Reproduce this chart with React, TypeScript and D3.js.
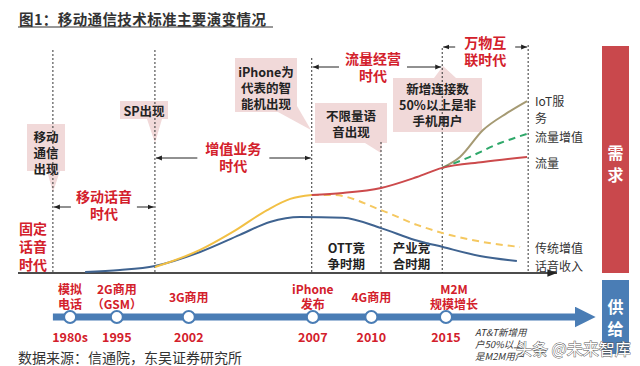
import React from "react";
import * as d3 from "d3";

// progress along the chart, 0..100 (left to right), and relative level 0..100
const eraBounds = [6.5, 25.5, 54.7, 67.6, 79, 95];

const voiceX = [12.5, 19, 25.5, 33.9, 41.3, 46.9, 52.5, 60.5, 67.6, 73.9, 79.1, 86, 92.9];
const voiceY = [0.4, 1.3, 3.1, 9.2, 16.7, 22.4, 24.6, 24.2, 19.7, 14.5, 11.4, 7.5, 5.3];

const vasX = [25.5, 33.9, 40, 46.4, 50.7, 54.7];
const vasY = [2.6, 10.1, 18, 27.6, 32.5, 34.2];

const vasDashX = [54.7, 58.7, 67.6, 74.3, 79.1, 86.6, 93.5];
const vasDashY = [34.2, 34.2, 27.6, 21.1, 17.5, 13.6, 11.4];

const trafficX = [54.7, 60.5, 67.6, 74.3, 79, 86.6, 94.8];
const trafficY = [34.2, 35.1, 37.3, 42.1, 46.1, 48.7, 50.9];

const trafficVasX = [79, 83.6, 89.8, 94.8];
const trafficVasY = [46.1, 50.4, 57, 61];

const iotX = [79, 82.3, 86.6, 91.1, 94.8];
const iotY = [46.1, 50.9, 62.7, 70.2, 75.4];

const milestoneX = [9.7, 18.4, 31.8, 54.9, 65.8, 79.7];
const milestoneYears = ["1980s", "1995", "2002", "2007", "2010", "2015"];
const milestoneNames = [["模拟", "电话"], ["2G商用", "（GSM）"], ["3G商用"], ["iPhone", "发布"], ["4G商用"], ["M2M", "规模增长"]];

const eras = [
  { from: 0, to: 1, lines: ["移动话音", "时代"], y: 196, arrowY: 207, gap: 33 },
  { from: 1, to: 2, lines: ["增值业务", "时代"], y: 148, arrowY: 158, gap: 36 },
  { from: 2, to: 4, lines: ["流量经营", "时代"], y: 58, arrowY: 67, gap: 34 },
  { from: 4, to: 5, lines: ["万物互", "联时代"], y: 42, arrowY: 47, gap: 30 },
];

const FONT = "'Noto Sans CJK SC', 'Noto Sans', sans-serif";
const RED = "#d3202b";
const PINK = "#f1d9d9";

const xs = d3.scaleLinear().domain([0, 100]).range([18, 555]);
const ys = d3.scaleLinear().domain([0, 100]).range([273, 45]);

const line = d3
  .line<[number, number]>()
  .x((d) => xs(d[0]))
  .y((d) => ys(d[1]))
  .curve(d3.curveMonotoneX);

const zip = (a: number[], b: number[]) => a.map((v, i) => [v, b[i]] as [number, number]);

function Callout({ box, base, tip, lines, cy }: any) {
  const [x, y, w, h] = box;
  return (
    <g>
      <rect x={x} y={y} width={w} height={h} fill={PINK} />
      <polygon points={`${base[0]},${base[1]} ${base[2]},${base[3]} ${tip[0]},${tip[1]}`} fill={PINK} />
      {lines.map((t: string, i: number) => (
        <text key={i} x={x + w / 2} y={cy + i * 16} textAnchor="middle" dominantBaseline="central"
          fontSize={12.5} fontWeight="bold" fill="#222">{t}</text>
      ))}
    </g>
  );
}

export default function App() {
  const bx = eraBounds.map((v) => xs(v));
  const dashTop = [50, 50, 58, 142, 48, 45];

  return (
    <div style={{ position: "fixed", left: 0, top: 0 }}>
      <svg width={640} height={366} fontFamily={FONT} style={{ display: "block", background: "#fff" }}>
        <defs>
          <marker id="ah" viewBox="0 0 10 10" refX="10" refY="5" markerWidth="6" markerHeight="6" orient="auto-start-reverse">
            <path d="M0,1 L10,5 L0,9 z" fill="#222" />
          </marker>
          <marker id="ahBlue" viewBox="0 0 10 10" refX="6" refY="5" markerWidth="3" markerHeight="3" orient="auto">
            <path d="M0,0 L10,5 L0,10 z" fill="#4a7db5" />
          </marker>
        </defs>

        {/* title */}
        <text x={19} y={18} fontSize={14.5} fontWeight="bold" fill="#333" dominantBaseline="central" letterSpacing={0.4}>图1：移动通信技术标准主要演变情况</text>
        <line x1={18} x2={273} y1={27} y2={27} stroke="#333" strokeWidth={1} />

        {/* callouts (drawn below the dashed lines) */}
        <Callout box={[27, 124, 38, 47]} base={[47, 171, 60, 171]} tip={[53, 192]} lines={["移动", "通信", "出现"]} cy={136} />
        <Callout box={[120, 101, 48, 18]} base={[147, 119, 162, 119]} tip={[155, 143]} lines={["SP出现"]} cy={110} />
        <Callout box={[235, 58, 62, 54]} base={[278, 112, 297, 106]} tip={[311, 130]} lines={["iPhone为", "代表的智", "能机出现"]} cy={71} />
        <Callout box={[315, 103, 72, 40]} base={[365, 143, 382, 143]} tip={[381, 153]} lines={["不限量语", "音出现"]} cy={115} />
        <Callout box={[393, 78, 89, 54]} base={[434, 78, 456, 78]} tip={[443, 66]} lines={["新增连接数", "50%以上是非", "手机用户"]} cy={88} />

        {/* dashed era boundaries */}
        {bx.map((x, i) => (
          <line key={i} x1={x} x2={x} y1={dashTop[i]} y2={ys(0)} stroke="#333" strokeWidth={1} strokeDasharray="2,2" />
        ))}

        {/* baseline with arrow */}
        <line x1={xs(0)} x2={xs(100) + 2} y1={ys(0)} y2={ys(0)} stroke="#111" strokeWidth={1.6} markerEnd="url(#ah)" />

        {/* era labels */}
        {["固定", "话音", "时代"].map((t, i) => (
          <text key={t} x={33} y={228 + i * 18} textAnchor="middle" dominantBaseline="central" fontSize={14} fontWeight="bold" fill={RED}>{t}</text>
        ))}
        {eras.map((e, i) => {
          const x0 = bx[e.from];
          const x1 = bx[e.to];
          const cx = (x0 + x1) / 2 - (e.from === 2 ? 4 : 0);
          return (
            <g key={i}>
              {e.lines.map((t, j) => (
                <text key={j} x={cx} y={e.y + j * 17} textAnchor="middle" dominantBaseline="central" fontSize={14} fontWeight="bold" fill={RED}>{t}</text>
              ))}
              <line x1={cx - e.gap} x2={x0 + 1} y1={e.arrowY} y2={e.arrowY} stroke="#222" strokeWidth={1} markerEnd="url(#ah)" />
              <line x1={cx + e.gap} x2={x1 - 1} y1={e.arrowY} y2={e.arrowY} stroke="#222" strokeWidth={1} markerEnd="url(#ah)" />
            </g>
          );
        })}

        {/* phase labels */}
        {[["OTT竞", "争时期"], ["产业竞", "合时期"]].map((ls, i) => (
          <g key={i}>
            {ls.map((t, j) => (
              <text key={j} x={(bx[2 + i] + bx[3 + i]) / 2} y={247 + j * 16} textAnchor="middle" dominantBaseline="central" fontSize={12.5} fontWeight="bold" fill="#222">{t}</text>
            ))}
          </g>
        ))}

        {/* curves */}
        <path d={line(zip(voiceX, voiceY)) || ""} fill="none" stroke="#3f6390" strokeWidth={2} />
        <path d={line(zip(vasX, vasY)) || ""} fill="none" stroke="#f2c045" strokeWidth={2} />
        <path d={line(zip(vasDashX, vasDashY)) || ""} fill="none" stroke="#f5c860" strokeWidth={2} strokeDasharray="7,5" />
        <path d={line(zip(iotX, iotY)) || ""} fill="none" stroke="#a59a73" strokeWidth={2} />
        <path d={line(zip(trafficVasX, trafficVasY)) || ""} fill="none" stroke="#2fa86a" strokeWidth={2} strokeDasharray="7,5" />
        <path d={line(zip(trafficX, trafficY)) || ""} fill="none" stroke="#cc4a4c" strokeWidth={2} />

        {/* series labels */}
        {[["IoT服", 100], ["务", 117], ["流量增值", 136], ["流量", 162], ["传统增值", 247], ["话音收入", 265]].map(([t, y]) => (
          <text key={t as string} x={535} y={y as number} dominantBaseline="central" fontSize={12} fill="#333">{t}</text>
        ))}

        {/* demand / supply bars */}
        <rect x={602} y={46} width={27} height={227} fill="#c9484c" />
        {["需", "求"].map((t, i) => (
          <text key={t} x={615.5} y={152 + i * 22} textAnchor="middle" dominantBaseline="central" fontSize={16} fontWeight="bold" fill="#fff">{t}</text>
        ))}
        <rect x={602} y={280} width={27} height={74} fill="#4a7db5" />
        {["供", "给"].map((t, i) => (
          <text key={t} x={615.5} y={306 + i * 22} textAnchor="middle" dominantBaseline="central" fontSize={16} fontWeight="bold" fill="#fff">{t}</text>
        ))}

        {/* timeline */}
        <line x1={xs(6.5)} x2={xs(106)} y1={317} y2={317} stroke="#4a7db5" strokeWidth={7} markerEnd="url(#ahBlue)" />
        {milestoneX.map((v, i) => (
          <g key={i}>
            <circle cx={xs(v)} cy={317} r={6} fill="#fff" stroke="#4a7db5" strokeWidth={2} />
            <text x={xs(v)} y={336} textAnchor="middle" dominantBaseline="central" fontSize={12.5} fontWeight="bold" fill={RED}>{milestoneYears[i]}</text>
            {milestoneNames[i].map((t, j) => {
              const n = milestoneNames[i].length;
              const y0 = n === 1 ? 296 : 288;
              return (
                <text key={j} x={xs(v) + (i === 5 ? 8 : 0)} y={y0 + j * 15} textAnchor="middle" dominantBaseline="central" fontSize={12} fontWeight="bold" fill={RED}>{t}</text>
              );
            })}
          </g>
        ))}

        {/* AT&T note */}
        {["AT&T新增用", "户50%以上", "是M2M用户"].map((t, i) => (
          <text key={i} x={475} y={332 + i * 12} dominantBaseline="central" fontSize={9.5} fontStyle="italic" fill="#333">{t}</text>
        ))}

        {/* source */}
        <text x={18} y={357} dominantBaseline="central" fontSize={14} fill="#333">数据来源：信通院，东吴证券研究所</text>

        {/* watermark */}
        <text x={516} y={348} dominantBaseline="central" fontSize={16} fill="#fff" stroke="#555" strokeWidth={0.9} paintOrder="stroke">头条 @未来智库</text>
      </svg>
    </div>
  );
}
